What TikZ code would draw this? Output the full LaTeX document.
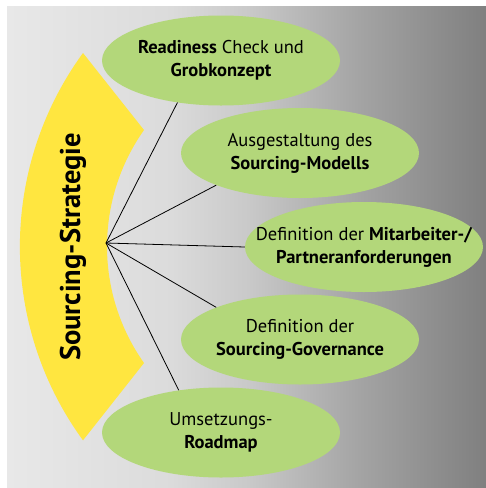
\documentclass[tikz,border=0pt]{standalone}
\usepackage{fontspec}
\setmainfont{PT Sans}
\usetikzlibrary{shapes.geometric}
\definecolor{stepgreen}{HTML}{B3D77A}
\definecolor{arcyellow}{HTML}{FFE640}
\pgfdeclarehorizontalshading{bggray}{100bp}{%
  color(0bp)=(black!9); color(25bp)=(black!9); color(42bp)=(black!14);
  color(50bp)=(black!21); color(62bp)=(black!36); color(75bp)=(black!50);
  color(100bp)=(black!50)}
\tikzset{
  step node/.style={ellipse, fill=stepgreen, minimum width=238pt, minimum height=90pt,
    inner xsep=-30pt, inner ysep=0pt, align=center, font=\fontsize{18.5}{23}\selectfont},
  spoke/.style={line width=0.8pt, black}
}
\begin{document}
\begin{tikzpicture}[x=1pt, y=1pt]
        \useasboundingbox (0,0) rectangle (486,-488);
        % background
        \shade[shading=bggray] (7,-6) rectangle (486,-488);

        % curved strategy band
        \fill[arcyellow] (83,-53) arc[start angle=143.9, end angle=216.1, radius=328.7]
            -- (144,-363) arc[start angle=215.24, end angle=144.76, radius=201.9] -- cycle;
        \node[rotate=90, font=\fontsize{28.5}{32}\selectfont\bfseries] (strat) at (73,-247) {Sourcing-Strategie};

        % steps
        \node[step node] (ready)  at (221,-60.5) {\textbf{Readiness} Check und\\\textbf{Grobkonzept}};
        \node[step node] (model)  at (300,-153)  {Ausgestaltung des\\\textbf{Sourcing-Modells}};
        \node[step node] (people) at (364,-247)  {Definition der \textbf{Mitarbeiter-/}\\\textbf{Partneranforderungen}};
        \node[step node] (gov)    at (300,-339.5) {Definition der\\\textbf{Sourcing-Governance}};
        \node[step node] (road)   at (221,-432.5) {Umsetzungs-\\\textbf{Roadmap}};

        % spokes from the hub
        \coordinate (hub) at (106,-243);
        \draw[spoke] (hub) -- (ready.224);
        \draw[spoke] (hub) -- (model.201);
        \draw[spoke] (hub) -- (people.west);
        \draw[spoke] (hub) -- (gov.159);
        \draw[spoke] (hub) -- (road.135);
    \end{tikzpicture}
\end{document}
